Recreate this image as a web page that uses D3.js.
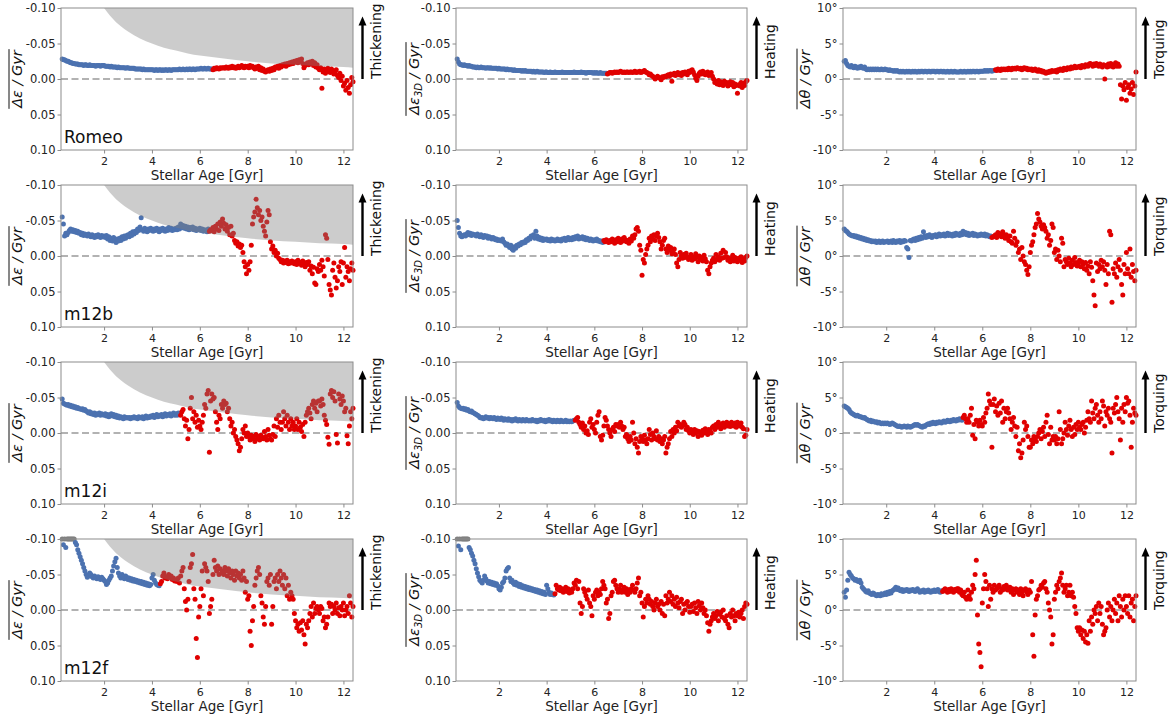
<!DOCTYPE html>
<html><head><meta charset="utf-8">
<script src="https://cdn.jsdelivr.net/npm/d3@7"></script>
<style>body{margin:0;background:#fff}svg{display:block}text{font-family:"DejaVu Sans",sans-serif}</style>
</head><body><svg id="c" width="1172" height="716"></svg>
<script>
// ---- data ----  rows: [0.25..0.95], [1.00..1.95], ... [12.00..12.40], step 0.05 Gyr
// ε and ε3D columns in units of 1e-3 per Gyr (negative = up), θ column in 0.1° per Gyr
const ageStart = 0.25, ageStep = 0.05;
const galaxies = ["Romeo", "m12b", "m12i", "m12f"];
const splitAge = [6.55, 6.4, 5.2, 4.35];          // blue before, red from
const sideLabels = ["Thickening", "Heating", "Torquing"];
const xTicks = [2, 4, 6, 8, 10, 12];
const yTicks = [-100, -50, 0, 50, 100];
const boundAges = [2.0, 2.25, 2.5, 2.75, 3, 3.5, 4, 4.5, 5, 5.5, 6, 7, 8, 9, 10, 11, 12, 12.4];
const boundVals = [-100, -89, -80, -73, -67, -57, -50, -44, -40, -36, -33, -29, -25, -22, -20, -18, -17, -16];

const romeoEps = [
[-28,-27,-27,-26,-25,-25,-24,-23,-23,-22,-22,-21,-21,-21,-20],
[-20,-20,-20,-19,-20,-20,-19,-19,-20,-19,-19,-19,-19,-18,-19,-19,-19,-18,-19,-19],
[-19,-18,-18,-18,-18,-17,-18,-17,-17,-17,-17,-16,-17,-16,-16,-16,-16,-16,-15,-16],
[-16,-15,-15,-15,-15,-15,-14,-14,-14,-14,-14,-14,-13,-14,-13,-13,-13,-13,-13,-13],
[-13,-13,-12,-13,-13,-12,-13,-13,-12,-13,-12,-13,-13,-12,-13,-13,-12,-13,-13,-13],
[-13,-13,-13,-14,-13,-13,-14,-13,-13,-14,-13,-14,-14,-13,-14,-14,-13,-14,-14,-14],
[-14,-15,-14,-14,-15,-14,-14,-15,-14,-14,-14,-13,-15,-14,-16,-15,-14,-16,-15,-16],
[-16,-15,-17,-16,-15,-17,-16,-18,-16,-17,-15,-16,-18,-16,-17,-19,-17,-16,-18,-17],
[-18,-16,-19,-17,-18,-16,-14,-17,-15,-18,-13,-16,-12,-14,-11,-10,-12,-13,-11,-14],
[-12,-15,-13,-17,-16,-18,-15,-19,-17,-20,-19,-21,-18,-22,-20,-23,-21,-24,-22,-25],
[-24,-26,-23,-27,-25,-28,-22,-16,-19,-21,-23,-20,-24,-22,-25,-19,-23,-17,-20,-15],
[-13,-16,13,-10,-14,-8,-12,-15,-11,-9,-14,-12,-7,-10,-13,-5,-2,-8,2,-4],
[10,6,16,2,12,20,8,-2,4]];
const romeoEps3D = [
[-28,-24,-21,-20,-20,-19,-20,-19,-19,-18,-19,-18,-18,-17,-17],
[-17,-16,-17,-16,-16,-17,-16,-16,-16,-15,-16,-16,-15,-16,-15,-15,-15,-15,-15,-14],
[-15,-14,-14,-14,-14,-14,-13,-14,-13,-13,-13,-13,-12,-13,-12,-12,-12,-12,-12,-11],
[-12,-11,-12,-11,-11,-11,-11,-11,-10,-11,-10,-10,-11,-10,-10,-10,-10,-10,-9,-10],
[-10,-9,-9,-10,-9,-9,-9,-10,-9,-9,-9,-9,-9,-10,-9,-9,-9,-9,-9,-9],
[-9,-9,-9,-10,-9,-9,-9,-9,-9,-10,-9,-9,-9,-8,-9,-9,-9,-9,-9,-8],
[-9,-8,-9,-8,-8,-9,-8,-8,-8,-8,-8,-7,-8,-9,-9,-8,-9,-10,-9,-10],
[-9,-10,-11,-10,-9,-10,-9,-10,-10,-9,-10,-10,-9,-10,-11,-9,-10,-10,-11,-9],
[-10,-11,-12,-10,-9,-8,-6,-7,-5,-4,-2,0,-2,-4,-2,-1,1,-3,-2,-4],
[-3,-5,-6,-4,-7,3,-6,-8,-5,-7,-9,-6,-8,-5,-9,-7,-10,-8,-6,-11],
[-9,-12,-13,-10,-6,-1,2,-4,-8,-10,-7,-11,-9,-6,-8,-10,-5,-7,-9,-4],
[0,5,3,7,2,8,4,6,9,3,7,5,10,6,4,8,5,11,7,9],
[20,8,10,5,12,6,9,4,2]];
const romeoTheta = [
[25,26,22,19,18,17,19,17,16,18,17,15,17,16,18],
[16,15,17,14,13,14,13,14,13,14,13,14,13,14,13,13,14,13,13,14],
[13,13,12,13,12,12,11,12,11,12,11,10,11,10,11,10,10,11,10,11],
[10,10,11,10,11,10,10,11,10,11,11,10,11,11,10,11,11,10,11,11],
[11,10,11,11,10,11,11,10,11,10,10,11,10,10,11,10,10,11,10,10],
[10,10,11,10,10,11,10,10,11,10,11,10,11,11,10,11,11,10,11,11],
[11,11,12,11,12,11,12,12,11,12,12,13,12,14,13,12,14,13,14,13],
[14,13,15,14,13,15,14,15,14,16,15,14,15,13,15,16,14,15,13,14],
[13,14,12,13,14,12,11,13,11,12,10,11,9,8,10,9,11,10,12,11],
[11,12,10,13,12,14,13,12,15,14,13,16,15,14,17,15,16,18,16,17],
[17,18,16,19,18,17,20,19,18,21,22,20,18,21,19,22,20,18,21,19],
[17,20,0,19,17,21,18,22,19,17,20,23,18,21,18,-8,-28,-10,-15,-5],
[-30,-12,-8,-20,-14,-5,-22,-10,10]];
const m12bEps = [
[-55,-45,-28,-32,-30,-33,-36,-38,-35,-37,-34,-36,-33,-35,-32],
[-33,-30,-32,-29,-31,-30,-28,-31,-29,-27,-30,-28,-26,-29,-27,-30,-28,-26,-29,-27],
[-28,-26,-29,-24,-27,-22,-25,-21,-26,-23,-19,-24,-21,-25,-22,-27,-24,-28,-25,-29],
[-30,-27,-32,-29,-34,-31,-35,-33,-38,-36,-41,-54,-37,-35,-39,-36,-34,-38,-36,-39],
[-37,-35,-38,-36,-39,-37,-34,-38,-36,-39,-37,-35,-38,-36,-40,-37,-39,-36,-38,-37],
[-39,-37,-41,-38,-45,-40,-43,-39,-42,-38,-41,-37,-40,-38,-41,-37,-39,-36,-38,-37],
[-39,-36,-38,-35,-37,-36,-34,-38,-35,-37,-36,-40,-34,-42,-38,-45,-36,-48,-42,-52],
[-46,-38,-44,-35,-40,-30,-42,-28,-32,-22,-18,-20,-14,-17,-12,-15,-5,8,15,25],
[12,20,8,-15,-45,-55,-62,-80,-68,-58,-64,-50,-55,-42,-35,-28,-48,-64,-58,-20],
[-10,-14,-5,-8,0,-4,3,5,8,6,10,7,9,6,11,8,10,7,9,11],
[8,12,6,10,9,13,7,11,15,9,12,8,20,14,25,16,38,40,18,22],
[12,20,6,15,28,-30,-25,5,40,48,55,20,10,30,45,35,15,22,8,40],
[10,-12,30,15,22,35,18,10,20]];
const m12bEps3D = [
[-50,-40,-32,-28,-27,-29,-30,-28,-31,-33,-30,-32,-29,-31,-30],
[-30,-28,-31,-29,-27,-30,-28,-26,-29,-27,-28,-25,-27,-26,-24,-26,-25,-23,-24,-22],
[-23,-22,-21,-24,-20,-18,-15,-17,-14,-12,-15,-10,-8,-13,-11,-15,-14,-17,-16,-19],
[-18,-20,-19,-23,-22,-25,-24,-28,-27,-30,-25,-35,-28,-24,-26,-23,-25,-22,-24,-23],
[-24,-22,-23,-21,-24,-22,-23,-21,-22,-24,-22,-23,-21,-24,-23,-25,-22,-24,-26,-23],
[-25,-23,-26,-24,-27,-25,-28,-24,-26,-25,-27,-24,-26,-23,-25,-24,-22,-24,-23,-21],
[-23,-22,-24,-21,-22,-20,-21,-19,-22,-20,-23,-21,-19,-22,-20,-24,-21,-18,-23,-20],
[-25,-22,-19,-24,-21,-26,-23,-20,-22,-18,-24,-21,-28,-25,-30,-38,-40,-35,-15,-8],
[27,5,10,-2,-10,-15,-25,-20,-28,-24,-30,-22,-28,-32,-26,-20,-10,-15,-22,-25],
[-10,-5,-14,-8,-12,-3,-6,-10,-2,10,15,5,-5,0,3,-2,2,-4,1,5],
[3,-2,6,1,4,-3,2,8,0,5,2,7,-1,4,8,20,25,15,10,6],
[3,8,-2,5,1,6,-4,3,-8,2,-5,1,6,3,8,4,-1,7,2,5],
[8,3,6,1,9,4,7,2,0]];
const m12bTheta = [
[38,36,35,33,31,30,29,28,29,27,28,26,27,25,26],
[24,25,23,24,22,23,21,22,20,21,20,21,19,20,21,19,20,21,19,20],
[20,21,19,20,21,19,22,20,19,21,20,22,19,21,20,22,21,12,10,-2],
[22,21,23,24,22,25,23,26,24,27,25,34,28,26,29,27,30,28,26,29],
[28,30,27,29,31,28,30,29,31,28,30,32,29,31,30,28,31,29,32,30],
[31,29,32,30,35,31,33,30,32,29,31,30,32,29,31,30,28,30,29,31],
[30,29,31,28,30,29,27,28,26,27,28,30,26,33,29,31,27,34,30,25],
[30,26,22,28,20,18,35,25,15,20,5,10,-5,12,0,-8,-12,-20,-26,-15],
[5,15,20,30,40,45,60,52,48,42,38,44,40,35,25,30,15,22,45,40],
[5,10,-5,8,0,-8,25,18,-15,-5,-8,-12,-3,-10,-15,-6,-12,-2,-9,-14],
[-10,-6,-15,-8,-12,-18,-9,-20,-14,-25,-8,-16,-35,-55,-70,-10,-22,-12,-18,-6],
[-15,-8,-20,-40,-12,-25,35,30,-65,-18,-25,-10,-30,-15,-5,-20,-40,-55,-12,-25],
[5,-18,-25,10,-30,-12,-22,-35,-20]];
const m12iEps = [
[-48,-42,-41,-40,-39,-40,-38,-39,-37,-38,-36,-37,-35,-36,-34],
[-34,-33,-34,-32,-33,-31,-30,-28,-30,-27,-28,-26,-28,-25,-27,-26,-28,-25,-27,-26],
[-25,-27,-24,-26,-23,-25,-27,-24,-26,-23,-25,-22,-24,-21,-23,-22,-20,-23,-21,-22],
[-21,-22,-20,-22,-21,-23,-21,-22,-20,-23,-22,-21,-23,-20,-22,-24,-21,-23,-22,-24],
[-23,-25,-22,-24,-26,-23,-25,-24,-26,-23,-25,-27,-24,-26,-25,-27,-24,-26,-28,-25],
[-27,-25,-28,-26,-25,-30,-33,-20,-10,-18,8,-5,-35,-50,-20,-30,-15,-25,-8,-18],
[-10,-5,-15,-25,-40,-35,-55,-60,27,-45,-55,-48,-50,-30,-15,-5,-25,-20,-40,-35],
[-45,-40,-42,-30,-35,-20,-10,-15,0,-5,5,10,15,25,20,8,-5,0,-10,5],
[0,5,10,3,8,5,12,2,8,5,10,3,6,8,-2,5,10,-5,3,8],
[10,2,-10,5,-20,-8,-25,-15,-5,-15,-30,-20,-10,-25,-15,-5,-20,-10,-15,-5],
[-10,-20,-5,-15,-8,-2,-12,5,-15,-25,-30,-35,-28,-20,-40,-45,-35,-42,-30,-45],
[-45,-38,-48,-40,-25,-18,-12,6,16,-55,-60,-50,-58,-45,2,14,-55,-48,-40,-52],
[-45,-30,-35,4,15,-10,-30,-20,-35]];
const m12iEps3D = [
[-43,-38,-36,-35,-34,-35,-33,-34,-32,-33,-31,-30,-31,-29,-28],
[-27,-26,-25,-24,-22,-21,-22,-20,-21,-23,-21,-22,-20,-22,-21,-20,-22,-20,-19,-21],
[-20,-19,-21,-20,-18,-20,-19,-18,-20,-18,-19,-17,-19,-18,-20,-18,-17,-19,-18,-17],
[-19,-18,-17,-19,-18,-17,-18,-17,-19,-18,-17,-18,-16,-18,-17,-19,-18,-17,-18,-16],
[-18,-17,-19,-17,-18,-16,-18,-17,-16,-18,-17,-16,-18,-17,-16,-17,-18,-16,-17,-16],
[-17,-16,-17,-18,-18,-20,-22,-15,-12,-8,-14,-5,-10,0,-3,2,-15,-20,-8,-12],
[-5,0,-15,-25,-30,5,10,3,-10,-22,-18,-10,-5,0,5,-5,-8,-2,-12,-10],
[-12,-8,-15,-10,-5,-8,5,2,8,12,5,10,-15,0,15,8,20,28,12,5],
[8,12,3,10,15,8,-5,2,10,0,5,8,-3,10,5,12,8,15,10,5],
[28,20,15,8,-2,5,-5,0,-8,-3,-15,-10,-12,-8,-10,-15,-12,-5,-8,-3],
[0,-5,-3,2,-5,0,-3,5,-2,0,3,-4,0,-6,-2,2,-5,-3,0,-8],
[-10,-5,-12,-8,-15,-10,-6,-12,-14,-8,-12,-15,-10,-13,-9,-15,-12,-10,-14,-8],
[-15,-12,-10,-14,-8,-6,5,3,-5]];
const m12iTheta = [
[38,37,36,35,33,30,28,27,26,25,24,25,24,23,23],
[22,21,22,20,19,18,17,18,16,17,16,15,16,14,15,14,13,14,13,14],
[13,14,13,12,13,14,13,12,11,10,9,10,9,8,9,10,9,8,10,9],
[8,9,10,11,12,11,12,11,10,9,8,10,9,11,12,13,12,14,13,15],
[14,13,15,14,16,15,14,16,17,15,16,18,17,16,18,17,19,18,17,19],
[18,20,19,18,22,25,20,15,20,15,25,35,-3,12,-8,18,15,10,18,12],
[10,22,15,28,35,55,45,40,-20,40,48,30,38,25,42,28,45,15,35,20],
[30,35,28,20,5,15,22,10,-5,8,-25,-15,-35,-28,-10,15,5,10,-5,-20],
[-20,-10,-15,-5,-10,-12,-5,0,5,-8,2,8,-5,15,25,-2,-15,8,-10,-5],
[-10,-5,-15,-8,30,5,-15,-8,0,15,5,-3,10,18,5,-5,8,-2,12,5],
[15,8,5,12,15,0,8,18,30,20,15,45,28,20,35,40,25,15,30,20],
[45,38,10,30,25,35,20,15,-28,35,28,40,50,30,20,-10,35,15,40,30],
[50,42,45,25,-20,15,35,28,25]];
const m12fEps = [
[-100,-92,-100,-88,-100,-100,-100,-100,-100,-100,-100,-95,-92,-85,-80],
[-75,-70,-65,-60,-55,-50,-46,-48,-52,-50,-47,-45,-48,-46,-44,-47,-45,-43,-46,-44],
[-42,-40,-36,-38,-42,-45,-48,-55,-62,-68,-73,-60,-52,-48,-45,-50,-47,-44,-48,-46],
[-43,-45,-42,-44,-41,-43,-40,-42,-39,-41,-38,-40,-37,-39,-36,-38,-35,-37,-34,-36],
[-45,-50,-42,-38,-36,-35,-34,-37,-40,-48,-52,-45,-47,-44,-50,-46,-48,-43,-45,-41],
[-42,-40,-45,-38,-48,-55,-60,-30,-12,0,-15,-40,-60,-65,-78,-30,-15,40,67,10],
[-5,-30,-55,-20,-65,-60,-55,-40,5,-5,-15,-50,-70,-60,-55,-62,-50,-58,-52,-55],
[-50,-60,-55,-48,-58,-52,-45,-55,-50,-42,-55,-48,-52,-45,-50,-42,-55,-45,-25,-40],
[-15,-20,30,50,15,-5,-35,-45,-55,-60,-50,-20,-10,10,20,-5,-40,-45,-35,-50],
[20,-5,-40,-45,-30,-50,-40,-55,-45,-35,-50,-30,-45,-20,-35,-15,-25,-20,-15,5],
[15,25,20,30,18,28,15,35,48,20,25,15,5,-5,10,-10,5,-2,-5,0],
[5,-5,-2,15,10,25,20,10,-10,-5,-8,5,-5,0,-10,5,-3,8,-5,0],
[-10,8,0,-5,5,-20,-10,10,-5]];
const m12fEps3D = [
[-100,-90,-100,-85,-100,-100,-100,-100,-100,-100,-88,-85,-80,-76,-70],
[-65,-58,-52,-47,-42,-40,-38,-42,-48,-44,-41,-38,-40,-37,-39,-36,-38,-35,-37,-34],
[-30,-28,-32,-38,-40,-45,-55,-58,-60,-45,-40,-42,-38,-36,-39,-35,-37,-33,-36,-32],
[-34,-31,-33,-30,-32,-29,-31,-28,-30,-27,-29,-26,-28,-25,-27,-24,-26,-23,-25,-22],
[-35,-30,-25,-22,-24,-22,-21,-23,-35,-30,-28,-32,-27,-30,-25,-28,-32,-26,-30,-24],
[-28,-25,-30,-38,-35,-42,-30,-40,-10,5,-5,-30,-25,-20,-15,-28,-10,-5,8,-20],
[-15,-25,-28,-20,-25,-22,-30,-40,-35,-30,-10,-15,12,5,-20,-25,-40,-42,-35,-30],
[-25,-30,-35,-25,-28,-32,-25,-30,-22,-28,-25,-30,-35,-28,-25,-30,-38,-45,-20,-25],
[-10,10,-5,-15,-10,-20,-15,-8,-12,-5,0,-10,-15,-5,-8,0,-12,5,-8,8],
[-20,-10,-15,-25,-12,-20,-8,-15,-5,-18,-10,-3,-12,-15,5,-8,0,-10,-12,-5],
[3,-5,-8,2,-10,-3,5,-12,-6,0,-10,-3,5,0,8,18,30,20,15,10],
[5,12,8,2,15,6,3,10,0,12,15,8,20,25,5,10,0,8,15,5],
[8,3,10,5,0,12,-5,-10,-8]];
const m12fTheta = [
[25,18,28,42,53,50,48,45,44,42,43,41,40,42,38],
[32,30,28,26,25,27,24,23,22,24,23,21,20,22,21,20,23,21,22,24],
[22,25,23,26,24,27,28,30,32,29,31,28,27,29,26,28,27,29,28,26],
[28,27,29,28,26,28,30,27,25,27,26,28,25,27,26,28,26,25,27,26],
[28,26,27,29,26,25,27,26,28,30,27,25,29,26,30,28,25,29,27,30],
[30,25,28,22,20,25,18,15,28,20,15,25,35,30,50,70,-7,-48,-60,-80],
[10,30,50,40,30,5,35,15,30,25,35,28,30,32,35,25,30,28,33,30],
[35,28,30,32,25,30,22,28,30,25,28,22,30,25,20,28,30,25,22,28],
[25,40,-35,-65,-7,15,20,28,30,35,32,38,40,30,25,10,0,-10,-48,-35],
[15,25,35,30,40,45,52,35,25,30,35,20,25,35,20,25,18,5,-5,-25],
[-30,-25,-35,-28,-40,-30,-45,-35,-47,-15,-30,-10,-20,0,-5,5,-15,10,-5,5],
[-20,-35,-30,-25,0,10,-10,5,-15,0,15,-5,10,-15,20,5,-10,15,0,20],
[5,-5,20,-10,10,15,-15,5,20]];

const grid = [
  [romeoEps, romeoEps3D, romeoTheta],
  [m12bEps, m12bEps3D, m12bTheta],
  [m12iEps, m12iEps3D, m12iTheta],
  [m12fEps, m12fEps3D, m12fTheta]];

// ---- layout ----
const colX = [61, 456, 843], colW = [292, 291, 293];
const rowY = [8, 185, 362, 539], rowH = 142;
const xDomain = [0.2, 12.4];
const blue = "#4c72b0", red = "#e00000", clipGray = "#808080";
const svg = d3.select("#c");
const defs = svg.append("defs");

grid.forEach((rowData, r) => rowData.forEach((data, c) => {
  const x0 = colX[c], w = colW[c], y0 = rowY[r], h = rowH;
  const x = d3.scaleLinear().domain(xDomain).range([x0, x0 + w]);
  const y = d3.scaleLinear().domain([-100, 100]).range(c < 2 ? [y0, y0 + h] : [y0 + h, y0]);
  const g = svg.append("g");
  const cid = `clip${r}${c}`;
  defs.append("clipPath").attr("id", cid).append("rect").attr("x", x0).attr("y", y0).attr("width", w).attr("height", h);

  // zero line
  g.append("line").attr("x1", x0).attr("x2", x0 + w).attr("y1", y(0)).attr("y2", y(0))
    .attr("stroke", "#999").attr("stroke-width", 1.5).attr("stroke-dasharray", "7,3.5");

  // points
  const pts = [];
  data.forEach((row, k) => row.forEach((v, j) => {
    const age = (k === 0 ? ageStart : k) + j * ageStep;
    pts.push({ age, v });
  }));
  g.append("g").selectAll("circle").data(pts).join("circle")
    .attr("cx", d => x(d.age))
    .attr("cy", d => y(c < 2 ? Math.max(d.v, -100) : d.v))
    .attr("r", 2.5)
    .attr("fill", d => (c < 2 && d.v <= -100) ? clipGray : (d.age < splitAge[r] - 1e-6 ? blue : red));

  // shaded region (left column), drawn translucent on top of the points
  if (c === 0) {
    const bd = boundAges.map((a, i) => ({ a, v: boundVals[i] }));
    const area = d3.area().x(d => x(d.a)).y0(y(-100)).y1(d => y(d.v)).curve(d3.curveMonotoneX);
    g.append("path").attr("d", area(bd)).attr("fill", "#808080").attr("fill-opacity", 0.4)
      .attr("clip-path", `url(#${cid})`);
  }

  // frame
  g.append("rect").attr("x", x0).attr("y", y0).attr("width", w).attr("height", h)
    .attr("fill", "none").attr("stroke", "#8c8c8c").attr("stroke-width", 1);

  // axes
  const ax = g.append("g").attr("transform", `translate(0,${y0 + h})`)
    .call(d3.axisBottom(x).tickValues(xTicks).tickSize(3.5).tickPadding(3.5).tickFormat(d3.format("d")));
  const fmt = c < 2 ? (d => (d / 1000).toFixed(2)) : (d => (d / 10) + "°");
  const ay = g.append("g").attr("transform", `translate(${x0},0)`)
    .call(d3.axisLeft(y).tickValues(yTicks).tickSize(3.5).tickPadding(2).tickFormat(fmt));
  [ax, ay].forEach(a => {
    a.select(".domain").remove();
    a.selectAll(".tick line").attr("stroke", "#8c8c8c");
    a.selectAll(".tick text").attr("fill", "#222").style("font-size", "11px").style("font-family", "DejaVu Sans");
  });
  ay.selectAll(".tick text").style("font-size", "11.5px");

  // x label
  g.append("text").attr("x", x0 + w / 2).attr("y", y0 + h + 30.2).attr("text-anchor", "middle")
    .style("font-size", "13.5px").attr("fill", "#222").text("Stellar Age [Gyr]");

  // galaxy name
  if (c === 0) g.append("text").attr("x", x0 + 3).attr("y", y0 + h - 7)
    .style("font-size", "17px").attr("fill", "#111").text(galaxies[r]);

  // y label with overline
  const baseOff = [39, 37, 33][c];
  const yl = g.append("g").attr("transform", `translate(${x0 - baseOff},${y0 + h / 2}) rotate(-90)`);
  const t = yl.append("text").attr("text-anchor", "middle").style("font-size", "14.5px")
    .style("font-style", "italic").attr("fill", "#111");
  t.append("tspan").text(c === 2 ? "Δθ" : "Δε");
  if (c === 1) t.append("tspan").attr("dy", 3).style("font-size", "10px").text("3D");
  t.append("tspan").attr("dy", c === 1 ? -3 : 0).text(" / Gyr");
  const bb = t.node().getBBox();
  yl.append("line").attr("x1", bb.x).attr("x2", bb.x + bb.width).attr("y1", -13).attr("y2", -13)
    .attr("stroke", "#111").attr("stroke-width", 1);

  // arrow + side label
  const axX = x0 + w + 9.5, tipY = y0 + 8.5;
  g.append("line").attr("x1", axX).attr("x2", axX).attr("y1", y(0)).attr("y2", tipY + 7)
    .attr("stroke", "#000").attr("stroke-width", 2.4);
  g.append("path").attr("d", `M${axX},${tipY} L${axX - 4},${tipY + 9} L${axX + 4},${tipY + 9} Z`).attr("fill", "#000");
  g.append("text").attr("transform", `translate(${x0 + w + 28},${y(0)}) rotate(-90)`)
    .style("font-size", "14px").attr("fill", "#111").text(sideLabels[c]);
}));
</script></body></html>
